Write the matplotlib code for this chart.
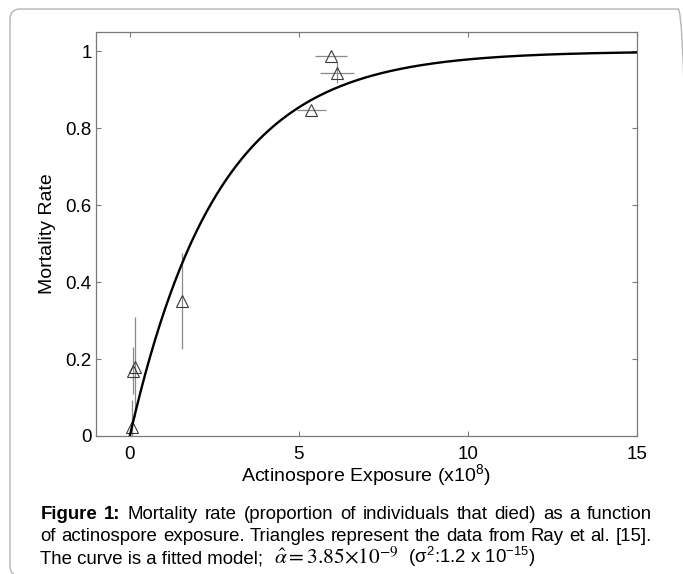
import matplotlib
matplotlib.use('Agg')
import matplotlib.pyplot as plt
import numpy as np
from matplotlib.patches import FancyBboxPatch
from matplotlib.transforms import IdentityTransform

plt.rcParams['font.family'] = ['Liberation Sans', 'DejaVu Sans']
plt.rcParams['mathtext.fontset'] = 'stix'

# ---- data ----
exposure = [0.05, 0.10, 0.15, 1.54, 5.36, 5.95, 6.12]        # x10^8
mortality = [0.023, 0.170, 0.180, 0.351, 0.848, 0.987, 0.944]
mortality_err = [0.070, 0.062, 0.130, 0.125, 0.0, 0.0, 0.027]
exposure_err = [0.0, 0.0, 0.0, 0.0, 0.43, 0.47, 0.50]
alpha_hat = 3.85e-9          # fitted model parameter (from caption)
exposure_scale = 1e8
x_ticks = [0, 5, 10, 15]
x_tick_labels = ['0', '5', '10', '15']
y_ticks = [0, 0.2, 0.4, 0.6, 0.8, 1]
y_tick_labels = ['0', '0.2', '0.4', '0.6', '0.8', '1']

W, H = 683, 574
fig = plt.figure(figsize=(W / 100, H / 100), dpi=100)

# rounded frame around the whole figure
frame = FancyBboxPatch((10, -2), 678, 567, boxstyle='round,pad=0,rounding_size=10',
                       transform=IdentityTransform(), facecolor='none',
                       edgecolor='#b4b4b4', linewidth=1.0, clip_on=False)
fig.patches.append(frame)

ax = fig.add_axes([96 / W, 1 - 436 / H, (637 - 96) / W, (436 - 32) / H])

curve_x = np.linspace(0, 15, 400)
curve_y = 1 - np.exp(-alpha_hat * exposure_scale * curve_x)

ax.errorbar(exposure, mortality, xerr=exposure_err, yerr=mortality_err, fmt='none',
            ecolor='#8a8a8a', elinewidth=0.9, capsize=0, zorder=2)
ax.plot(exposure, mortality, ls='none', marker='^', ms=8.5, mfc='none',
        mec='#3a3a3a', mew=0.8, zorder=3)
ax.plot(curve_x, curve_y, color='black', lw=1.7, zorder=4)

ax.set_xlim(-1, 15)
ax.set_ylim(0, 1.05)
ax.set_xticks(x_ticks)
ax.set_xticklabels(x_tick_labels)
ax.set_yticks(y_ticks)
ax.set_yticklabels(y_tick_labels)

for s in ax.spines.values():
    s.set_color('#7a7a7a')
    s.set_linewidth(0.9)
ax.tick_params(direction='in', length=3.8, width=0.8, color='#7a7a7a',
               top=True, right=True, labelsize=13.5, labelcolor='black')
ax.tick_params(axis='x', pad=7.5)
ax.tick_params(axis='y', pad=3)

ax.set_xlabel(r'Actinospore Exposure (x10$^{\mathregular{8}}$)', fontsize=14)
ax.xaxis.label.set_va('baseline')
ax.xaxis.set_label_coords(0.5, (436 - 482) / 404)
ax.set_ylabel('Mortality Rate', fontsize=14)
ax.yaxis.set_label_coords((56 - 96) / 541, 0.5)

# ---- caption ----
fig.canvas.draw()
renderer = fig.canvas.get_renderer()

line1 = [('Figure', 'bold'), ('1:', 'bold'), ('Mortality', 'normal'), ('rate', 'normal'),
         ('(proportion', 'normal'), ('of', 'normal'), ('individuals', 'normal'),
         ('that', 'normal'), ('died)', 'normal'), ('as', 'normal'), ('a', 'normal'),
         ('function', 'normal')]
line2_text = 'of actinospore exposure. Triangles represent the data from Ray et al. [15].'
line2 = [(w, 'normal') for w in line2_text.split(' ')]

X0, X1 = 40.5, 652.0


def put(x_px, base_px, s, fs, **kw):
    t = fig.text(x_px / W, 1 - base_px / H, s, va='baseline', ha='left',
                 fontsize=fs, color='black', **kw)
    bb = t.get_window_extent(renderer)
    return t, bb.x1


# size the caption font from the natural width of the second line
probe_fs = 12.8
tp, xe = put(X0, 541.0, line2_text, probe_fs)
tp.remove()
cap_fs = probe_fs * 606 / (xe - X0)


def justify(words, base_px):
    texts, widths = [], []
    for w, weight in words:
        t, x1 = put(0, base_px, w, cap_fs, fontweight=weight)
        bb = t.get_window_extent(renderer)
        texts.append(t)
        widths.append(bb.width)
    gap = (X1 - X0 - sum(widths)) / (len(words) - 1)
    x = X0
    for t, wd in zip(texts, widths):
        t.set_x(x / W)
        x += wd + gap


justify(line1, 519.3)
justify(line2, 541.0)
_, x = put(X0, 563.0, 'The curve is a fitted model;', cap_fs)
_, x = put(x + 10, 563.0, r'$\hat{\alpha} = 3.85{\times}10^{-9}$', cap_fs * 1.15)
put(x + 10, 563.0, r'(σ$^{\mathregular{2}}$:1.2 x 10$^{\mathregular{-15}}$)', cap_fs)

fig.savefig('out.png', dpi=100)
